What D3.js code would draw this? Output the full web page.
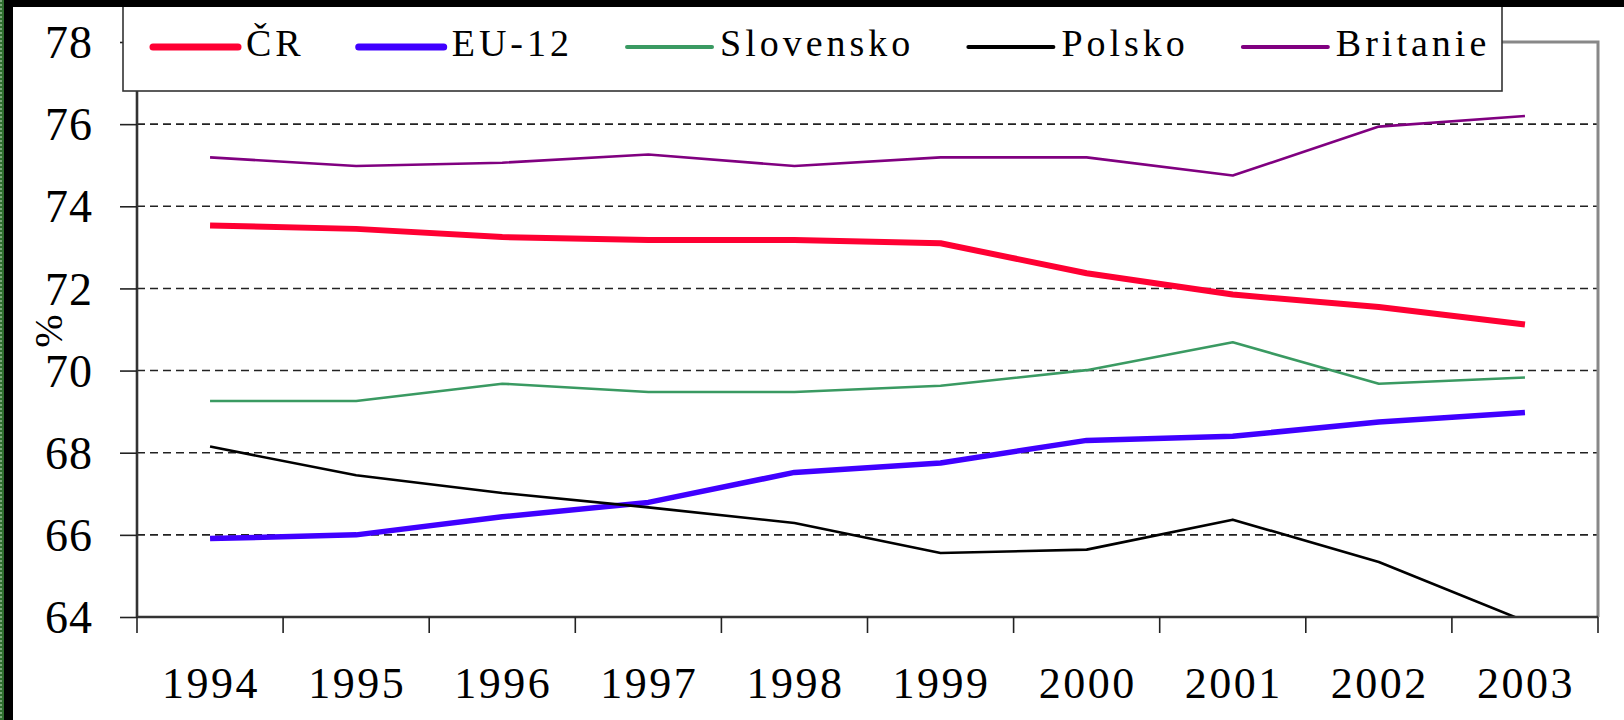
<!DOCTYPE html>
<html><head><meta charset="utf-8">
<script src="https://cdn.jsdelivr.net/npm/d3@7"></script>
<style>body{margin:0;background:#fff;} svg{display:block;}</style>
</head><body>
<svg id="c" width="1624" height="720"></svg>
<script>
const years = ["1994","1995","1996","1997","1998","1999","2000","2001","2002","2003"];
const cr        = [73.53,73.45,73.25,73.18,73.18,73.10,72.37,71.85,71.55,71.12];
const eu12      = [65.91,66.00,66.44,66.79,67.52,67.75,68.30,68.40,68.75,68.98];
const slovensko = [69.26,69.26,69.68,69.48,69.48,69.63,70.01,70.69,69.68,69.83];
const polsko    = [68.15,67.45,67.02,66.67,66.29,65.56,65.64,66.37,65.34,63.90];
const britanie  = [75.19,74.98,75.06,75.26,74.98,75.19,75.19,74.75,75.94,76.20];
const seriesNames = ["ČR","EU-12","Slovensko","Polsko","Britanie"];
const yTicks = [64,66,68,70,72,74,76,78];
const yLabel = "%";

function pickFont() {
  const cands = ["Liberation Serif","Tinos","Times New Roman","Nimbus Roman","Nimbus Roman No9 L","Noto Serif","DejaVu Serif","FreeSerif","Georgia"];
  const ctx = document.createElement("canvas").getContext("2d");
  const s = "Slovensko 1994 ČR Britanie mmmwwwiii";
  const base = {};
  ["monospace","sans-serif"].forEach(b => { ctx.font = "40px " + b; base[b] = ctx.measureText(s).width; });
  for (const c of cands) {
    let ok = true;
    for (const b of ["monospace","sans-serif"]) {
      ctx.font = `40px "${c}", ${b}`;
      if (Math.abs(ctx.measureText(s).width - base[b]) < 0.5) ok = false;
    }
    if (ok) return `"${c}", serif`;
  }
  return "serif";
}
const FONT = pickFont();

const series = [
  {name: seriesNames[0], values: cr,        color: "#ff0033", width: 6},
  {name: seriesNames[1], values: eu12,      color: "#4000ff", width: 5.5},
  {name: seriesNames[2], values: slovensko, color: "#3a9a62", width: 2.6},
  {name: seriesNames[3], values: polsko,    color: "#000000", width: 2.6},
  {name: seriesNames[4], values: britanie,  color: "#800080", width: 2.6}
];

const svg = d3.select("#c");
const L = 137, R = 1598, T = 42, B = 617;
const x = d3.scaleBand().domain(years).range([L, R]);
const y = d3.scaleLinear().domain([64, 78]).range([B, T]);

const defs = svg.append("defs");
const pat = defs.append("pattern").attr("id","gp").attr("width",4).attr("height",4).attr("patternUnits","userSpaceOnUse");
pat.append("rect").attr("width",4).attr("height",4).attr("fill","#2f6f2f");
pat.append("rect").attr("width",2).attr("height",2).attr("fill","#7aa87a");
defs.append("clipPath").attr("id","plotclip").append("rect")
  .attr("x", L).attr("y", T - 10).attr("width", R - L).attr("height", B - T + 10);

svg.append("rect").attr("x",0).attr("y",0).attr("width",1624).attr("height",720).attr("fill","#fff");

// gridlines
svg.append("g").selectAll("line").data(yTicks.filter(d => d > 64 && d < 78)).join("line")
  .attr("x1", L).attr("x2", R).attr("y1", d => y(d)).attr("y2", d => y(d))
  .attr("stroke", "#222").attr("stroke-width", 1.6).attr("stroke-dasharray", "8,5");

// plot border top/right (gray)
svg.append("path").attr("d", `M${L},${T}H${R}V${B}`).attr("fill","none")
  .attr("stroke","#888").attr("stroke-width",3);

// lines
const line = d3.line().x((d,i) => x(years[i]) + x.bandwidth()/2).y(d => y(d));
svg.append("g").attr("clip-path","url(#plotclip)").selectAll("path").data(series).join("path")
  .attr("d", d => line(d.values)).attr("fill","none")
  .attr("stroke", d => d.color).attr("stroke-width", d => d.width)
  .attr("stroke-linejoin","round").attr("stroke-linecap","butt");

// y axis
const yAxis = svg.append("g").attr("transform", `translate(${L},0)`)
  .call(d3.axisLeft(y).tickValues(yTicks).tickSize(17).tickPadding(27).tickFormat(d3.format("d")));
yAxis.attr("font-family", FONT);
yAxis.select(".domain").attr("stroke","#333").attr("stroke-width",2.6).attr("d", `M0,${T}V${B}`);
yAxis.selectAll(".tick line").attr("stroke","#222").attr("stroke-width",1.6);
yAxis.selectAll(".tick text").attr("font-size", 46)
  .attr("fill","#000").attr("letter-spacing", 1).attr("dy","0.34em");

// x axis
const xAxis = svg.append("g").attr("transform", `translate(0,${B})`)
  .call(d3.axisBottom(x).tickSize(0).tickPadding(50));
xAxis.attr("font-family", FONT);
xAxis.select(".domain").attr("stroke","#333").attr("stroke-width",2.6).attr("d", `M${L},0H${R}`);
xAxis.selectAll(".tick text").attr("font-size", 44)
  .attr("fill","#000").attr("letter-spacing", 2.5).attr("dx", 1);
const bounds = years.map(d => x(d)).concat([R]);
svg.append("g").selectAll("line").data(bounds).join("line")
  .attr("x1", d => d).attr("x2", d => d).attr("y1", B).attr("y2", B + 16)
  .attr("stroke","#222").attr("stroke-width",1.6);

// y label
svg.append("text").attr("transform","translate(62,331) rotate(-90)")
  .attr("text-anchor","middle").attr("font-family", FONT).attr("font-size", 40)
  .attr("fill","#000").text(yLabel);

// legend
const lg = svg.append("g");
lg.append("rect").attr("x",123).attr("y",-10).attr("width",1502-123).attr("height",101)
  .attr("fill","#fff").attr("stroke","#333").attr("stroke-width",1.6);
let cx = 153;
series.forEach((s, i) => {
  lg.append("line").attr("x1", cx).attr("x2", cx + 85).attr("y1", 47).attr("y2", 47)
    .attr("stroke", s.color).attr("stroke-width", i < 2 ? 7 : 4).attr("stroke-linecap","round");
  const t = lg.append("text").attr("x", cx + 93).attr("y", 56)
    .attr("font-family", FONT).attr("font-size", 38).attr("letter-spacing", 4)
    .attr("fill","#000").text(s.name);
  cx = cx + 93 + t.node().getComputedTextLength() + 54;
});

svg.append("rect").attr("x",0).attr("y",0).attr("width",1624).attr("height",7).attr("fill","#000");
svg.append("rect").attr("x",0).attr("y",0).attr("width",4).attr("height",720).attr("fill","url(#gp)");
svg.append("rect").attr("x",4).attr("y",0).attr("width",9).attr("height",720).attr("fill","#000");
</script>
</body></html>
